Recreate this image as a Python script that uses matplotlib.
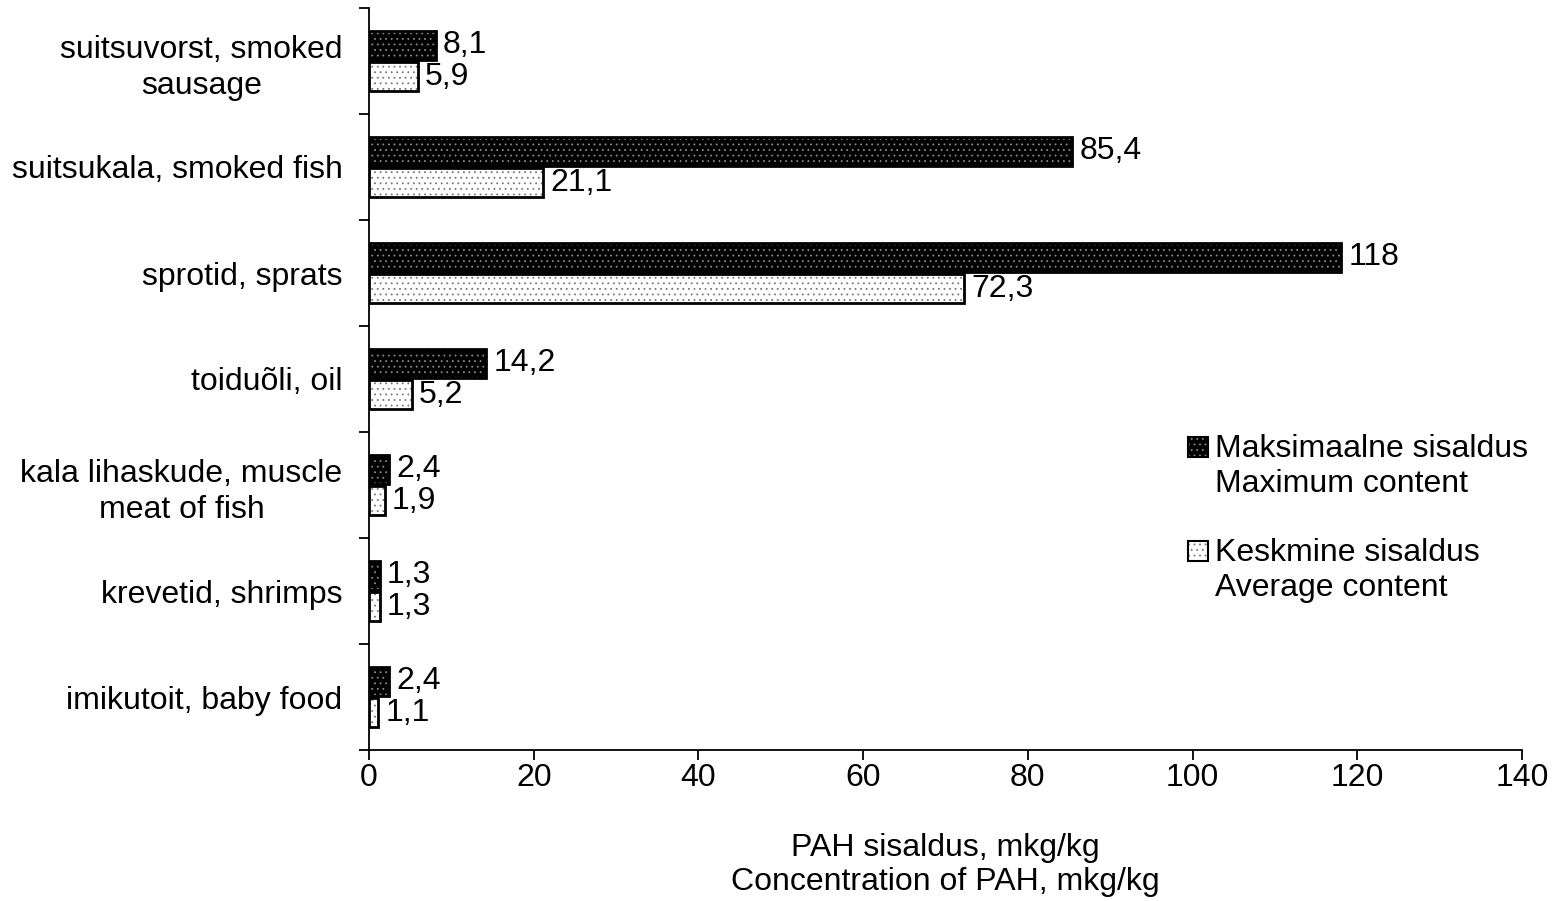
import matplotlib.pyplot as plt
import numpy as np
from matplotlib.patches import Rectangle

plt.rcParams['font.family'] = ['Liberation Sans', 'DejaVu Sans']
plt.rcParams['hatch.linewidth'] = 0.6

categories = ['suitsuvorst, smoked\nsausage', 'suitsukala, smoked fish', 'sprotid, sprats',
              'toiduõli, oil', 'kala lihaskude, muscle\nmeat of fish', 'krevetid, shrimps',
              'imikutoit, baby food']
max_values = [8.1, 85.4, 118, 14.2, 2.4, 1.3, 2.4]
avg_values = [5.9, 21.1, 72.3, 5.2, 1.9, 1.3, 1.1]
max_labels = ['8,1', '85,4', '118', '14,2', '2,4', '1,3', '2,4']
avg_labels = ['5,9', '21,1', '72,3', '5,2', '1,9', '1,3', '1,1']
legend_labels = ['Maksimaalne sisaldus\nMaximum content', 'Keskmine sisaldus\nAverage content']

FS = 23
W, H = 1558, 901

fig = plt.figure(figsize=(W / 100, H / 100), dpi=100)
ax = fig.add_axes([369 / W, 1 - 750 / H, (1522 - 369) / W, (750 - 8) / H])

y = np.arange(len(categories))
h = 0.275

dark = dict(color='black', edgecolor='#8a8a8a', hatch='...', linewidth=0)
light = dict(color='white', edgecolor='#777777', hatch='...', linewidth=0)

ax.barh(y - h / 2 - 0.01, max_values, height=h, **dark)
ax.barh(y - h / 2 - 0.01, max_values, height=h, fill=False, edgecolor='black', linewidth=2)
ax.barh(y + h / 2 + 0.01, avg_values, height=h, **light)
ax.barh(y + h / 2 + 0.01, avg_values, height=h, fill=False, edgecolor='black', linewidth=2)

for i in range(len(categories)):
    ax.text(max_values[i] + 0.9, y[i] - h / 2 - 0.01, max_labels[i], va='center', ha='left', fontsize=FS)
    ax.text(avg_values[i] + 0.9, y[i] + h / 2 + 0.01, avg_labels[i], va='center', ha='left', fontsize=FS)

ax.set_xlim(0, 140)
ax.set_ylim(len(categories) - 0.5, -0.5)
ax.set_xticks(range(0, 141, 20))
ax.set_yticks(y)
ax.set_yticklabels(categories, multialignment='center', linespacing=1.3)
ax.set_yticks(np.arange(-0.5, len(categories)), minor=True)
ax.tick_params(axis='y', which='major', length=0, pad=19, labelsize=FS)
ax.tick_params(axis='y', which='minor', length=7, width=1.3)
ax.tick_params(axis='x', length=7, width=1.3, pad=2, labelsize=FS)

for s in ['top', 'right']:
    ax.spines[s].set_visible(False)
for s in ['left', 'bottom']:
    ax.spines[s].set_linewidth(1.3)

ax.set_xlabel('PAH sisaldus, mkg/kg\nConcentration of PAH, mkg/kg', fontsize=FS, va='center')
ax.xaxis.set_label_coords(0.5, (750 - 865) / (750 - 8))

# legend drawn by hand so the box sits at the first text line
leg_y = [447, 551]
for style, ty, lab in zip([dark, light], leg_y, legend_labels):
    r = Rectangle((1188 / W, 1 - (ty + 10) / H), 20 / W, 20 / H, transform=fig.transFigure,
                  facecolor=style['color'], edgecolor=style['edgecolor'], hatch=style['hatch'], linewidth=0)
    b = Rectangle((1188 / W, 1 - (ty + 10) / H), 20 / W, 20 / H, transform=fig.transFigure,
                  fill=False, edgecolor='black', linewidth=1.5)
    fig.patches.extend([r, b])
    fig.text(1215 / W, 1 - (ty - 13) / H, lab, ha='left', va='top', fontsize=FS, linespacing=1.2)

fig.savefig('out.png', dpi=100)
